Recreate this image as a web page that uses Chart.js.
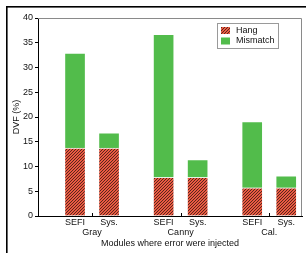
<!DOCTYPE html>
<html>
<head>
<meta charset="utf-8">
<script src="https://cdn.jsdelivr.net/npm/chart.js@4.4.0/dist/chart.umd.min.js"></script>
<style>
  html, body { margin: 0; padding: 0; background: #fff; }
  #wrap { position: relative; width: 306px; height: 253px; }
</style>
</head>
<body>
<div id="wrap"><canvas id="dvfChart" width="306" height="253"></canvas></div>
<script>
// data
const groups = ['Gray', 'Canny', 'Cal.'];
const methods = ['SEFI', 'Sys.'];
const groupPos = [1, 2, 3];
const barOffset = 0.192;
const hangValues = [13.7, 13.7, 7.8, 7.8, 5.7, 5.7];
const mismatchValues = [19.2, 3.1, 28.9, 3.6, 13.4, 2.4];
const yTicks = [0, 5, 10, 15, 20, 25, 30, 35, 40];

const FONT = 'Liberation Sans, Arial, sans-serif';
const RED = '#ea5a42';
const GREEN = '#52bc4b';

// bar x positions (two bars per group)
const barPos = [];
const barLabels = [];
groupPos.forEach(g => {
    barPos.push(g - barOffset);
    barLabels.push(methods[0]);
    barPos.push(g + barOffset);
    barLabels.push(methods[1]);
});

// hatch pattern for "Hang"
function makeHatch() {
    const n = 3;
    const c = document.createElement('canvas');
    c.width = n; c.height = n;
    const g = c.getContext('2d');
    g.fillStyle = RED;
    g.fillRect(0, 0, n, n);
    g.strokeStyle = '#2a1510';
    g.lineWidth = 0.75;
    g.beginPath();
    g.moveTo(-1, n + 1); g.lineTo(n + 1, -1);
    g.moveTo(-1, 1); g.lineTo(1, -1);
    g.moveTo(n - 1, n + 1); g.lineTo(n + 1, n - 1);
    g.stroke();
    return g.createPattern(c, 'repeat');
}
const hatch = makeHatch();

const framePlugin = {
    id: 'framePlugin',
    beforeDraw(chart) {
        const ctx = chart.ctx;
        ctx.save();
        ctx.fillStyle = '#000';
        ctx.fillRect(6, 6, 300, 1.6);
        ctx.fillRect(6, 6, 1.6, 247);
        ctx.restore();
    },
    afterDraw(chart) {
        const ctx = chart.ctx;
        const a = chart.chartArea;
        const x = chart.scales.x;
        ctx.save();
        // top and right edges of the plot box
        ctx.strokeStyle = '#8a8a8a';
        ctx.lineWidth = 1;
        ctx.beginPath();
        ctx.moveTo(a.left, a.top + 0.5);
        ctx.lineTo(a.right - 0.5, a.top + 0.5);
        ctx.lineTo(a.right - 0.5, a.bottom);
        ctx.stroke();
        // small inward ticks at group centres
        ctx.strokeStyle = '#000';
        ctx.beginPath();
        groupPos.forEach(g => {
            const px = Math.round(x.getPixelForValue(g)) + 0.5;
            ctx.moveTo(px, a.bottom);
            ctx.lineTo(px, a.bottom - 3);
        });
        ctx.stroke();
        // x labels: method under each bar, group under each pair, then axis title
        ctx.font = '9px ' + FONT;
        ctx.fillStyle = '#111';
        ctx.textAlign = 'center';
        ctx.textBaseline = 'middle';
        barPos.forEach((p, i) => {
            ctx.fillText(barLabels[i], x.getPixelForValue(p), a.bottom + 7);
        });
        groupPos.forEach((g, i) => {
            ctx.fillText(groups[i], x.getPixelForValue(g), a.bottom + 16.5);
        });
        ctx.fillText('Modules where error were injected', (a.left + a.right) / 2, a.bottom + 28);
        // legend inside the plot, top right
        const lx = 217, ly = 23, lw = 61, lh = 25;
        ctx.fillStyle = '#fff';
        ctx.fillRect(lx, ly, lw, lh);
        ctx.strokeStyle = '#9a9a9a';
        ctx.strokeRect(lx + 0.5, ly + 0.5, lw, lh);
        ctx.textAlign = 'left';
        chart.data.datasets.forEach((ds, i) => {
            const yy = ly + 7.5 + i * 10.5;
            ctx.fillStyle = ds.backgroundColor;
            ctx.fillRect(lx + 4, yy - 3.5, 9, 7);
            ctx.fillStyle = '#111';
            ctx.fillText(ds.label, lx + 19, yy);
        });
        ctx.restore();
    }
};

new Chart(document.getElementById('dvfChart'), {
    type: 'bar',
    data: {
        datasets: [{
            label: 'Hang',
            data: barPos.map((p, i) => ({ x: p, y: hangValues[i] })),
            backgroundColor: hatch,
            borderColor: 'rgba(255,255,255,0.6)',
            borderWidth: 1,
            barThickness: 21,
            stack: 's'
        }, {
            label: 'Mismatch',
            data: barPos.map((p, i) => ({ x: p, y: mismatchValues[i] })),
            backgroundColor: GREEN,
            borderColor: 'rgba(255,255,255,0.6)',
            borderWidth: 1,
            barThickness: 21,
            stack: 's'
        }]
    },
    options: {
        responsive: false,
        animation: false,
        layout: { padding: { left: 0, top: 18, right: 4, bottom: 0 } },
        plugins: { legend: { display: false }, tooltip: { enabled: false } },
        scales: {
            x: {
                type: 'linear',
                position: 'bottom',
                stacked: true,
                offset: false,
                min: 0.39,
                max: 3.37,
                afterFit: s => { s.height = 37; },
                ticks: { display: false },
                grid: { display: false },
                border: { display: true, color: '#000', width: 1 }
            },
            y: {
                stacked: true,
                min: 0,
                max: 40,
                afterBuildTicks: s => { s.ticks = yTicks.map(v => ({ value: v })); },
                afterFit: s => { s.width = 38; },
                ticks: {
                    font: { family: FONT, size: 9 },
                    color: '#111',
                    padding: 2
                },
                grid: { drawOnChartArea: false, drawTicks: true, tickLength: 3, color: '#000' },
                border: { display: true, color: '#000', width: 1 },
                title: {
                    display: true,
                    text: 'DVF (%)',
                    font: { family: FONT, size: 9 },
                    color: '#111',
                    padding: { top: 11, bottom: 0 }
                }
            }
        }
    },
    plugins: [framePlugin]
});
</script>
</body>
</html>
